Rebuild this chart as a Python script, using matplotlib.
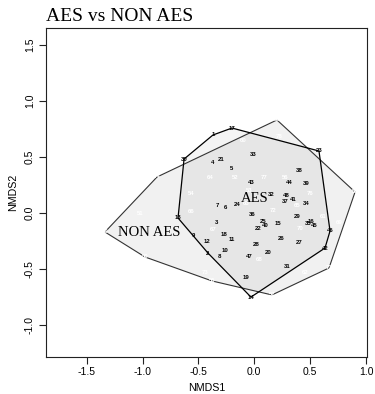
import numpy as np
import matplotlib
matplotlib.use("Agg")
import matplotlib.pyplot as plt

# NMDS site scores
aes_lab = [str(i) for i in range(1, 49)]
aes_x = [-0.370, -0.415, -0.334, -0.370, -0.200, -0.262, -0.334, -0.316, -0.549, -0.262,
         -0.200, -0.423, -0.683, -0.030, 0.212, 0.508, -0.200, -0.271, -0.074, 0.123,
         -0.298, 0.033, 0.579, -0.155, 0.078, 0.239, 0.400, 0.015, 0.382, -0.629,
         0.293, 0.150, -0.012, 0.463, 0.481, -0.021, 0.275, 0.400, 0.463, 0.096,
         0.346, 0.633, -0.030, 0.311, 0.534, 0.678, -0.047, 0.284]
aes_y = [0.694, -0.360, -0.083, 0.444, 0.399, 0.051, 0.060, -0.395, -0.199, -0.333,
         -0.235, -0.253, -0.047, -0.753, -0.092, -0.074, 0.756, -0.190, -0.574, -0.351,
         0.471, -0.137, 0.551, 0.069, -0.074, -0.226, -0.262, -0.280, -0.038, 0.479,
         -0.484, 0.167, 0.524, 0.078, -0.092, -0.020, 0.104, 0.381, 0.265, -0.110,
         0.122, -0.315, 0.274, 0.274, -0.110, -0.163, -0.395, 0.158]

non_lab = ["49", "50", "51", "52", "53", "54", "55", "56", "57", "58", "59", "60", "61",
           "62", "63", "64", "65", "66", "67", "68", "69", "70", "71", "72", "73", "74",
           "76", "77", "78"]
non_x = [-1.337, -0.979, -1.024, -0.173, -0.047, -0.567, -0.379, 0.275, 0.158, 0.902,
         0.203, -0.101, 0.615, 0.454, -0.074, -0.397, 0.382, -0.567, -0.370, 0.042,
         0.758, 0.409, 0.669, 0.167, -0.441, -0.871, 0.499, 0.087, 0.221]
non_y = [-0.172, -0.395, -0.003, 0.310, 0.194, 0.176, -0.609, 0.310, -0.734, 0.185,
         0.828, 0.649, -0.038, -0.538, 0.078, 0.310, 0.060, 0.015, -0.146, -0.422,
         -0.083, -0.137, -0.493, 0.024, -0.538, 0.319, 0.176, 0.310, 0.676]

group_names = ["AES", "NON AES"]
group_lx = [0.006, -0.938]
group_ly = [0.131, -0.181]


def hull(xs, ys):
    pts = sorted(zip(xs, ys))

    def cross(o, a, b):
        return (a[0] - o[0]) * (b[1] - o[1]) - (a[1] - o[1]) * (b[0] - o[0])
    lower, upper = [], []
    for p in pts:
        while len(lower) >= 2 and cross(lower[-2], lower[-1], p) <= 0:
            lower.pop()
        lower.append(p)
    for p in reversed(pts):
        while len(upper) >= 2 and cross(upper[-2], upper[-1], p) <= 0:
            upper.pop()
        upper.append(p)
    return np.array(lower[:-1] + upper[:-1])


fig = plt.figure(figsize=(3.75, 3.94), dpi=100)
ax = fig.add_axes([46 / 375, 37 / 394, 321 / 375, 329 / 394])

h_non = hull(non_x, non_y)
h_aes = hull(aes_x, aes_y)
ax.fill(h_non[:, 0], h_non[:, 1], facecolor="black", alpha=0.055, edgecolor="none", zorder=1)
ax.fill(h_aes[:, 0], h_aes[:, 1], facecolor="black", alpha=0.045, edgecolor="none", zorder=1)
ax.fill(h_non[:, 0], h_non[:, 1], facecolor="none", edgecolor="#333333", lw=0.8, zorder=2)
ax.fill(h_aes[:, 0], h_aes[:, 1], facecolor="none", edgecolor="black", lw=0.9, zorder=2)

for lab, x, y in zip(non_lab, non_x, non_y):
    ax.text(x, y, lab, color="white", fontsize=4.3, ha="center", va="center",
            family="Liberation Sans", weight="bold", zorder=3)
for lab, x, y in zip(aes_lab, aes_x, aes_y):
    ax.text(x, y, lab, color="black", fontsize=4.3, ha="center", va="center",
            family="Liberation Sans", weight="bold", zorder=4)

for name, x, y in zip(group_names, group_lx, group_ly):
    ax.text(x, y, name, fontsize=10.5, family="Liberation Serif", ha="center",
            va="center", zorder=5)

ax.set_xlim(-1.865, 1.009)
ax.set_ylim(-1.288, 1.649)
ax.set_xticks([-1.5, -1.0, -0.5, 0.0, 0.5, 1.0])
ax.set_yticks([-1.0, -0.5, 0.0, 0.5, 1.0, 1.5])
ax.set_xticklabels(["-1.5", "-1.0", "-0.5", "0.0", "0.5", "1.0"])
ax.set_yticklabels(["-1.0", "-0.5", "0.0", "0.5", "1.0", "1.5"], rotation=90, va="center")
for sp in ax.spines.values():
    sp.set_linewidth(0.8)
    sp.set_color("#222222")
ax.tick_params(direction="out", length=5, width=0.8, color="#222222", labelsize=7.5)
ax.tick_params(axis="x", pad=2.5)
ax.tick_params(axis="y", pad=3)
for lbl in ax.get_xticklabels() + ax.get_yticklabels():
    lbl.set_family("Liberation Sans")

ax.set_xlabel("NMDS1", fontsize=7.7, family="Liberation Sans", labelpad=4)
ax.set_ylabel("NMDS2", fontsize=7.7, family="Liberation Sans", labelpad=5)
ax.text(0, 1 + 7 / 329, "AES vs NON AES", transform=ax.transAxes, fontsize=14,
        family="Liberation Serif", ha="left", va="baseline")

fig.savefig("out.png", dpi=100)
